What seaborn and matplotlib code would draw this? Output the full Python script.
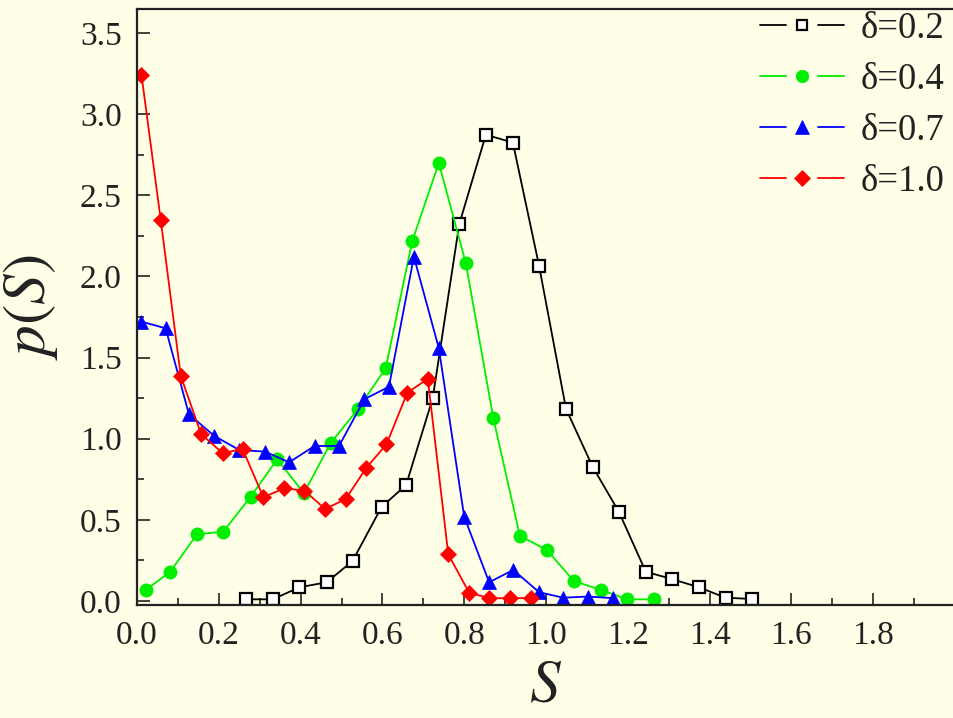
import matplotlib
matplotlib.use("Agg")
import matplotlib.pyplot as plt
import seaborn as sns
import numpy as np
from matplotlib.ticker import MultipleLocator
from matplotlib.lines import Line2D
from matplotlib.legend_handler import HandlerBase

# ---- data ----
s_02 = [0.267, 0.332, 0.397, 0.464, 0.527, 0.598, 0.658, 0.723, 0.788, 0.853,
        0.919, 0.983, 1.049, 1.114, 1.178, 1.244, 1.309, 1.374, 1.439, 1.504]
p_02 = [0.01, 0.01, 0.084, 0.115, 0.246, 0.579, 0.715, 1.249, 2.323, 2.873,
        2.824, 2.066, 1.183, 0.827, 0.55, 0.18, 0.134, 0.084, 0.02, 0.012]

s_04 = [0.022, 0.081, 0.147, 0.211, 0.278, 0.343, 0.408, 0.474, 0.54, 0.608,
        0.673, 0.738, 0.804, 0.871, 0.936, 1.002, 1.068, 1.134, 1.199, 1.264]
p_04 = [0.068, 0.18, 0.411, 0.427, 0.643, 0.873, 0.664, 0.975, 1.181, 1.434,
        2.218, 2.699, 2.081, 1.129, 0.402, 0.314, 0.123, 0.068, 0.01, 0.01]

s_07 = [0.011, 0.07, 0.127, 0.189, 0.25, 0.313, 0.372, 0.434, 0.494, 0.556,
        0.616, 0.677, 0.738, 0.8, 0.861, 0.92, 0.983, 1.042, 1.103, 1.165]
p_07 = [1.721, 1.68, 1.15, 1.017, 0.93, 0.92, 0.854, 0.955, 0.955, 1.243,
        1.32, 2.121, 1.557, 0.519, 0.115, 0.191, 0.054, 0.02, 0.027, 0.017]

s_10 = [0.011, 0.058, 0.107, 0.157, 0.21, 0.258, 0.309, 0.36, 0.409, 0.46,
        0.51, 0.56, 0.61, 0.661, 0.711, 0.761, 0.812, 0.861, 0.912, 0.963]
p_10 = [3.241, 2.348, 1.386, 1.027, 0.91, 0.937, 0.639, 0.694, 0.68, 0.567,
        0.627, 0.818, 0.965, 1.284, 1.368, 0.288, 0.051, 0.017, 0.017, 0.017]

labels = ["δ=0.2", "δ=0.4", "δ=0.7", "δ=1.0"]
x_ticks = [0.0, 0.2, 0.4, 0.6, 0.8, 1.0, 1.2, 1.4, 1.6, 1.8]
y_ticks = [0.0, 0.5, 1.0, 1.5, 2.0, 2.5, 3.0, 3.5]

BG = "#FFFEE6"
INK = "#222222"
sns.set_theme(style="ticks")
plt.rcParams["font.family"] = ["Liberation Serif", "DejaVu Serif"]
plt.rcParams["mathtext.fontset"] = "stix"


class GapHandler(HandlerBase):
    """Origin-style legend entry: line — marker — line with gaps."""
    def create_artists(self, legend, orig, xdescent, ydescent, width, height,
                       fontsize, trans):
        y = height / 2.0 - ydescent
        x0 = -xdescent
        x1 = x0 + width
        f = 0.31
        col = orig.get_color()
        lw = orig.get_linewidth()
        l1 = Line2D([x0, x0 + f * width], [y, y], color=col, linewidth=lw)
        l2 = Line2D([x1 - f * width, x1], [y, y], color=col, linewidth=lw)
        m = Line2D([x0 + width / 2.0], [y], linestyle="none",
                   marker=orig.get_marker(), markersize=orig.get_markersize(),
                   markerfacecolor=orig.get_markerfacecolor(),
                   markeredgecolor=orig.get_markeredgecolor(),
                   markeredgewidth=orig.get_markeredgewidth())
        for a in (l1, l2, m):
            a.set_transform(trans)
        return [l1, l2, m]


fig = plt.figure(figsize=(9.54, 7.18), dpi=100, facecolor=BG)
ax = fig.add_axes([137/954, (718-605)/718, 818/954, 596.4/718])
ax.set_facecolor(BG)

LW = 1.3
series = [
    (s_02, p_02, "black", "s", "white", 8, 1.6),
    (s_04, p_04, "#00EE00", "o", "#00EE00", 9.5, 0.5),
    (s_07, p_07, "#0000FF", "^", "#0000FF", 10, 0.5),
    (s_10, p_10, "#FF0000", "D", "#FF0000", 8.5, 0.5),
]
handles = []
for (xs, ys, col, mk, fc, ms, mew), lab in zip(series, labels):
    sns.lineplot(x=xs, y=ys, ax=ax, color=col, marker=mk, markersize=ms,
                 markerfacecolor=fc, markeredgecolor=col, markeredgewidth=mew,
                 linewidth=LW, sort=False, estimator=None, legend=False)
    handles.append(Line2D([], [], color=col, linewidth=LW, marker=mk,
                          markersize=ms * 0.95, markerfacecolor=fc,
                          markeredgecolor=col, markeredgewidth=mew))

ax.set_xlim(0, 2.0)
ax.set_ylim(-0.025, 3.65)
ax.set_xticks(x_ticks)
ax.set_xticklabels([f"{v:.1f}" for v in x_ticks])
ax.set_yticks(y_ticks)
ax.set_yticklabels([f"{v:.1f}" for v in y_ticks])
ax.xaxis.set_minor_locator(MultipleLocator(0.1))
ax.yaxis.set_minor_locator(MultipleLocator(0.25))
ax.tick_params(which="major", direction="in", length=9, width=1.2,
               labelsize=24, colors=INK, pad=11)
ax.tick_params(which="minor", direction="in", length=5, width=1.2, colors=INK)
ax.tick_params(top=False, right=False, which="both")
for sp in ax.spines.values():
    sp.set_linewidth(1.6)
    sp.set_color(INK)

ax.set_xlabel("$S$", fontsize=44, labelpad=6, color=INK)
ax.set_ylabel("$p(S)$", fontsize=44, labelpad=14, color=INK)

leg = ax.legend(handles, labels, handler_map={Line2D: GapHandler()},
                loc="upper right", bbox_to_anchor=(952/954, 714/718),
                bbox_transform=fig.transFigure, frameon=False, fontsize=26.5,
                handlelength=2.3, handletextpad=0.45, labelspacing=0.45,
                borderaxespad=0.0, borderpad=0.2)
for t in leg.get_texts():
    t.set_color(INK)

fig.savefig("out.png", dpi=100, facecolor=BG)
